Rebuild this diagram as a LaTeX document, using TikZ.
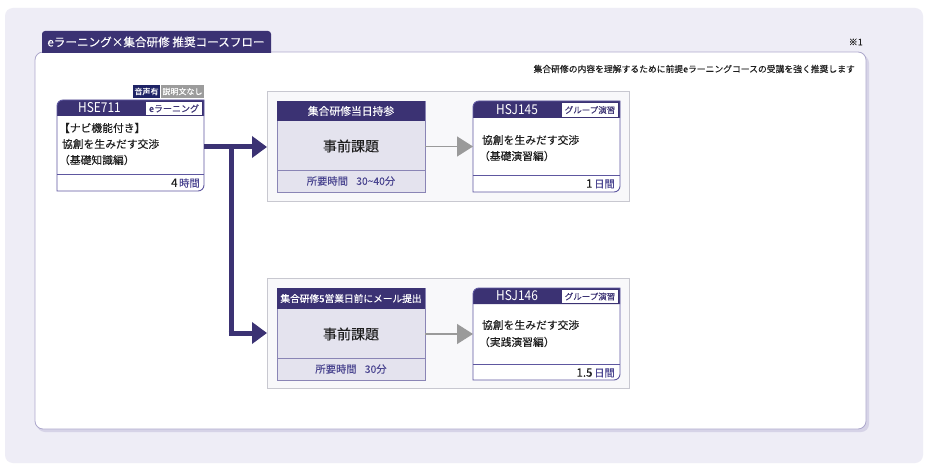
\documentclass[tikz,border=0pt]{standalone}
\usepackage{fontspec}
\setmainfont{Noto Sans CJK JP}[FakeBold=0.08]
\newfontfamily\plainf{Noto Sans CJK JP}
\usetikzlibrary{arrows.meta}
\definecolor{dkp}{HTML}{3B3273}
\definecolor{navyb}{HTML}{1F2466}
\definecolor{greyb}{HTML}{9C9C9C}
\definecolor{pline}{HTML}{5E57A0}
\definecolor{ptext}{HTML}{4A4590}
\definecolor{lightb}{HTML}{E4E3EE}
\definecolor{prebord}{HTML}{8A85B5}
\definecolor{grpfill}{HTML}{F8F8FA}
\definecolor{grpbord}{HTML}{C8C8D0}
\definecolor{bgc}{HTML}{EEEDF6}
\definecolor{cardb}{HTML}{ADA8CC}
\definecolor{shadowc}{HTML}{D6D3E7}
\definecolor{garrow}{HTML}{9A9A9A}
\definecolor{bodyt}{HTML}{1E1E1E}
\newcommand{\fs}[1]{\fontsize{#1}{#1}\selectfont}
% course card: name, x0,y0,x1,y1, header bottom, separator
\newcommand{\ccard}[7]{%
  \node[inner sep=0pt,outer sep=0pt,minimum width={(#4-#2)*1pt},minimum height={(#5-#3)*1pt}] (#1) at ({(#2+#4)/2},{(#3+#5)/2}) {};
  \fill[white] (#2,#5) -- (#2,#3+6) arc[start angle=180,end angle=90,radius=6pt] -- (#4,#3) -- (#4,#5-6) arc[start angle=0,end angle=-90,radius=6pt] -- cycle;
  \fill[dkp] (#2,#6) -- (#2,#3+6) arc[start angle=180,end angle=90,radius=6pt] -- (#4,#3) -- (#4,#6) -- cycle;
  \draw[pline,line width=0.9pt] (#2,#5) -- (#2,#3+6) arc[start angle=180,end angle=90,radius=6pt] -- (#4,#3) -- (#4,#5-6) arc[start angle=0,end angle=-90,radius=6pt] -- cycle;
  \draw[pline,line width=0.9pt] (#2,#7) -- (#4,#7);
}
% pre-task box: name, x0,y0,x1,y1, header bottom, separator
\newcommand{\pbox}[7]{%
  \node[inner sep=0pt,outer sep=0pt,minimum width={(#4-#2)*1pt},minimum height={(#5-#3)*1pt}] (#1) at ({(#2+#4)/2},{(#3+#5)/2}) {};
  \filldraw[fill=lightb,draw=prebord,line width=0.9pt] (#2,#3) rectangle (#4,#5);
  \fill[dkp] (#2,#3) rectangle (#4,#6);
  \draw[prebord,line width=0.9pt] (#2,#7) -- (#4,#7);
}
\newcommand{\gbox}[5]{%
  \node[inner sep=0pt,outer sep=0pt,minimum width={(#4-#2)*1pt},minimum height={(#5-#3)*1pt}] (#1) at ({(#2+#4)/2},{(#3+#5)/2}) {};
  \filldraw[fill=grpfill,draw=grpbord,line width=1pt] (#2,#3) rectangle (#4,#5);
}
\begin{document}
\begin{tikzpicture}[x=1pt,y=-1pt,
  txt/.style={inner sep=0pt,outer sep=0pt,text=bodyt,font=\fs{10.8}},
  hdr/.style={inner sep=0pt,text=white,font=\fs{12}},
  code/.style={inner sep=0pt,text=white,font=\plainf\fs{13.5},xscale=0.88},
  tag/.style={inner sep=0pt,text=dkp,font=\fs{8.5}},
  foot/.style={inner sep=0pt,text=ptext,font=\fs{10.3}},
  parrow/.style={dkp,line width=5pt,-{Triangle[length=15pt,width=21pt]}},
  parline/.style={dkp,line width=5pt},
  garr/.style={garrow,line width=1.4pt,-{Triangle[length=16pt,width=20pt]}}]
\useasboundingbox[fill=white] (0,0) rectangle (928,470);
\fill[bgc,rounded corners=8pt] (5,8) rectangle (923,463);
% main card
\fill[shadowc,rounded corners=8pt] (37,55) rectangle (869,432);
\filldraw[fill=white,draw=cardb,line width=0.8pt,rounded corners=8pt] (35,52) rectangle (866,429);
% title tab
\fill[dkp] (42,53) -- (42,34) arc[start angle=180,end angle=90,radius=3pt] -- (268,31) arc[start angle=90,end angle=0,radius=3pt] -- (271,53) -- cycle;
\node[hdr,font=\fs{11.6}] (title) at (156,42) {eラーニング×集合研修 推奨コースフロー};
\node[inner sep=0pt,text=bodyt,font=\fs{9},anchor=east] (note1) at (863,42) {※1};
\node[inner sep=0pt,text=bodyt,font=\fs{8.8},anchor=east] (note) at (855,69) {集合研修の内容を理解するために前提eラーニングコースの受講を強く推奨します};

% badges
\fill[navyb] (133,85) rectangle (160,98);
\node[inner sep=0pt,text=white,font=\fs{8}] (b1) at (146.5,91.5) {音声有};
\fill[greyb] (161,85) rectangle (204,98);
\node[inner sep=0pt,text=white,font=\fs{8}] (b2) at (182.5,91.5) {説明文なし};

% HSE711 card
\ccard{hse}{57}{100}{204}{191}{116}{174}
\node[code] (hsecode) at (99.5,108) {HSE711};
\fill[white] (146,102) rectangle (202,115);
\node[tag,font=\fs{9}] (hsetag) at (174,108.5) {eラーニング};
\node[txt,anchor=west] (hse1) at (59,128) {【ナビ機能付き】};
\node[txt,anchor=west] (hse2) at (62,144) {協創を生みだす交渉};
\node[txt,anchor=west] (hse3) at (59,160) {（基礎知識編）};
\node[foot,anchor=east] (hsetime) at (200,183) {{\color{bodyt}\fs{11.5}4}\,時間};

% group 1
\gbox{g1}{267}{92}{629}{202}
\pbox{pre1}{277}{101}{425}{192}{121}{170}
\node[hdr,font=\fs{10.8}] (pre1h) at (351,111) {集合研修当日持参};
\node[txt,font=\fs{14}] (pre1t) at (351,146) {事前課題};
\node[foot] (pre1f) at (351,181) {所要時間\hspace{0.8em}30\textasciitilde40分};
\ccard{hsj1}{473}{101}{620}{192}{118}{175}
\node[code] (hsj1code) at (517,110) {HSJ145};
\fill[white] (562,103) rectangle (618,117);
\node[tag] (hsj1tag) at (590,110) {グループ演習};
\node[txt,anchor=west] (hsj1a) at (482,140) {協創を生みだす交渉};
\node[txt,anchor=west] (hsj1b) at (479,156) {（基礎演習編）};
\node[foot,anchor=east] (hsj1time) at (615,184) {{\color{bodyt}\fs{11.5}1}\,日間};

% group 2
\gbox{g2}{267}{278}{629}{388}
\pbox{pre2}{277}{288}{425}{380}{309}{358}
\node[hdr,font=\fs{9.7}] (pre2h) at (351,298.5) {集合研修5営業日前にメール提出};
\node[txt,font=\fs{14}] (pre2t) at (351,334) {事前課題};
\node[foot] (pre2f) at (351,369) {所要時間\hspace{0.8em}30分};
\ccard{hsj2}{473}{288}{620}{380}{304}{364}
\node[code] (hsj2code) at (517,296) {HSJ146};
\fill[white] (562,290) rectangle (618,303);
\node[tag] (hsj2tag) at (590,296.5) {グループ演習};
\node[txt,anchor=west] (hsj2a) at (482,325) {協創を生みだす交渉};
\node[txt,anchor=west] (hsj2b) at (479,342) {（実践演習編）};
\node[foot,anchor=east] (hsj2time) at (615,373) {{\color{bodyt}\fs{11.5}1.5}\,日間};

% connectors
\coordinate (br) at (231,147);
\draw[parrow] (hse.east |- g1.west) -- (g1.west);
\draw[parline] (br) -- (br |- g2.west);
\draw[parrow] ([xshift=-2.5pt]br |- g2.west) -- (g2.west);
\draw[garr] (pre1.east) -- (hsj1.west);
\draw[garr] (pre2.east) -- (hsj2.west);
\end{tikzpicture}
\end{document}
